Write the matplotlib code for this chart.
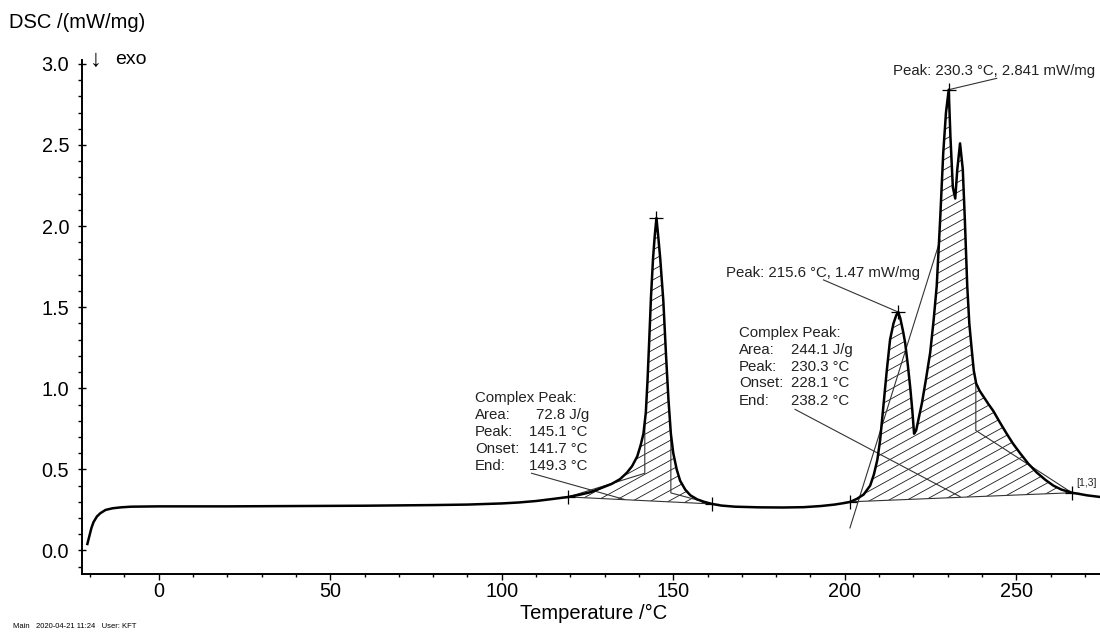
import numpy as np
import matplotlib
matplotlib.use("Agg")
import matplotlib.pyplot as plt
from matplotlib.collections import LineCollection

plt.rcParams['font.family'] = ['Liberation Sans', 'DejaVu Sans']

# DSC trace: temperature (°C) and heat flow (mW/mg)
temperature = [
    -20.8, -20.2, -19.6, -19.0, -18.0, -17.0, -15.5, -13.5, -11.0, -8.0,
    0.0, 20.0, 40.0, 60.0, 80.0, 90.0, 100.0, 105.0, 110.0, 115.0,
    119.4, 123.0, 126.0, 129.0, 132.0, 134.5, 136.5, 138.0, 139.5, 140.5,
    141.3, 142.0, 142.5, 143.0, 143.5, 144.1, 144.6, 145.1, 145.6, 146.2,
    147.1, 147.9, 148.6, 149.3, 150.0, 151.0, 152.0, 153.5, 155.0, 157.0,
    159.0, 161.3, 164.0, 168.0, 175.0, 182.0, 188.0, 193.0, 197.0, 200.0,
    201.6, 203.5, 205.5, 207.4, 208.5, 209.5, 210.3, 211.3, 212.2, 213.2,
    214.2, 215.0, 215.6, 216.2, 217.0, 217.6, 218.4, 219.1, 219.7, 220.2,
    220.8, 221.6, 222.5, 223.7, 224.9, 225.9, 226.8, 227.8, 228.7, 229.5,
    230.3, 230.8, 231.5, 232.2, 232.8, 233.6, 234.4, 235.0, 235.7, 236.3,
    237.0, 237.6, 238.3, 239.3, 240.4, 241.8, 243.3, 245.2, 247.2, 249.0,
    251.1, 253.5, 256.0, 258.5, 260.8, 263.2, 265.7, 266.2, 268.0, 270.6,
    272.5, 274.4,
]
dsc = [
    0.040, 0.090, 0.140, 0.175, 0.210, 0.230, 0.250, 0.260, 0.266, 0.270,
    0.272, 0.272, 0.274, 0.276, 0.280, 0.283, 0.290, 0.296, 0.305, 0.318,
    0.330, 0.345, 0.360, 0.385, 0.410, 0.440, 0.480, 0.520, 0.580, 0.650,
    0.720, 0.850, 1.050, 1.300, 1.560, 1.800, 1.940, 2.050, 1.940, 1.800,
    1.540, 1.200, 0.930, 0.720, 0.600, 0.500, 0.430, 0.375, 0.340, 0.315,
    0.300, 0.287, 0.277, 0.270, 0.266, 0.265, 0.267, 0.274, 0.283, 0.293,
    0.300, 0.318, 0.345, 0.400, 0.470, 0.560, 0.680, 0.900, 1.100, 1.300,
    1.400, 1.450, 1.470, 1.430, 1.350, 1.280, 1.140, 1.000, 0.860, 0.720,
    0.740, 0.820, 0.910, 1.060, 1.220, 1.420, 1.630, 2.040, 2.450, 2.700,
    2.841, 2.550, 2.240, 2.170, 2.350, 2.510, 2.350, 2.040, 1.630, 1.400,
    1.240, 1.110, 1.030, 0.985, 0.950, 0.905, 0.860, 0.790, 0.720, 0.660,
    0.600, 0.535, 0.480, 0.435, 0.400, 0.375, 0.360, 0.356, 0.350, 0.340,
    0.335, 0.330,
]

# Integration baselines of the two complex peaks
peak1_base_T = [119.4, 161.3]
peak1_base_dsc = [0.330, 0.287]
peak2_base_T = [201.6, 266.2]
peak2_base_dsc = [0.300, 0.356]

# Characteristic temperatures
peak1_onset, peak1_end = 141.7, 149.3
peak2_end = 238.2
peak_T = [145.1, 215.6, 230.3]
peak_dsc = [2.05, 1.47, 2.841]

x_ticks = [0, 50, 100, 150, 200, 250]
y_ticks = [0.0, 0.5, 1.0, 1.5, 2.0, 2.5, 3.0]
y_tick_labels = ['0.0', '0.5', '1.0', '1.5', '2.0', '2.5', '3.0']

W, H = 1100, 633
fig = plt.figure(figsize=(W / 100, H / 100), dpi=100)
ax = fig.add_axes([81.7 / W, (H - 574) / H, (W - 81.7) / W, (574 - 60) / H])
ax.set_xlim(-22.45, 274.4)
ax.set_ylim(-0.145, 3.024)

for side in ('top', 'right'):
    ax.spines[side].set_visible(False)
for side in ('left', 'bottom'):
    ax.spines[side].set_linewidth(1.4)

ax.set_xticks(x_ticks)
ax.set_xticks(np.arange(-20, 275, 10), minor=True)
ax.set_yticks(y_ticks)
ax.set_yticklabels(y_tick_labels)
ax.set_yticks(np.arange(-0.1, 3.01, 0.1), minor=True)
ax.tick_params(axis='x', which='major', direction='out', length=4, width=1.0,
               labelsize=14.3, pad=2)
ax.tick_params(axis='x', which='minor', direction='out', length=2.5, width=1.0)
ax.tick_params(axis='y', which='major', direction='inout', length=6, width=1.0,
               labelsize=14.3, pad=6)
ax.tick_params(axis='y', which='minor', direction='out', length=3, width=1.0)

T = np.asarray(temperature)
D = np.asarray(dsc)


def hatch_region(base_T, base_dsc, spacing_px=10.0, slope_px=0.55):
    """Fill the area between trace and baseline with slanted hatch lines."""
    sel = (T >= base_T[0]) & (T <= base_T[1])
    xs = T[sel]
    top = D[sel]
    bottom = np.interp(xs, base_T, base_dsc)
    poly = ax.fill_between(xs, bottom, top, facecolor='none', edgecolor='none')
    bb = ax.bbox
    rise = slope_px * bb.width
    lines = [[(bb.x0, c), (bb.x1, c + rise)]
             for c in np.arange(bb.y0 - rise, bb.y1, spacing_px)]
    inv = ax.transData.inverted()
    seg = [inv.transform(np.array(l)) for l in lines]
    lc = LineCollection(seg, colors='#1a1a1a', linewidths=0.6, zorder=2)
    ax.add_collection(lc, autolim=False)
    lc.set_clip_path(poly.get_paths()[0], poly.get_transform())
    ax.plot(base_T, base_dsc, color='#333333', lw=0.8, zorder=2)


hatch_region(peak1_base_T, peak1_base_dsc)
hatch_region(peak2_base_T, peak2_base_dsc)

thin = dict(color='#333333', lw=0.8, zorder=2)
# Onset / end constructions of the first peak
rising = T <= peak_T[0]
falling = T >= peak_T[0]
y_on = np.interp(peak1_onset, T[rising], D[rising])
y_end = np.interp(peak1_end, T[falling], D[falling])
ax.plot([peak1_onset, peak1_onset, peak1_base_T[0]], [y_on, 0.476, peak1_base_dsc[0]], **thin)
ax.plot([peak1_end, peak1_end, peak1_base_T[1]], [y_end, 0.355, peak1_base_dsc[1]], **thin)
# End construction and onset tangent of the second peak
y_end2 = np.interp(peak2_end, T[T >= 234.4], D[T >= 234.4])
ax.plot([peak2_end, peak2_end, peak2_base_T[1]], [y_end2, 0.74, peak2_base_dsc[1]], **thin)
ax.plot([201.5, 227.8], [0.139, 1.914], **thin)

# Leader lines from the labels
ax.plot([244.3, peak_T[2]], [2.911, peak_dsc[2]], **thin)
ax.plot([193.8, peak_T[1]], [1.668, peak_dsc[1]], **thin)
ax.plot([185.5, 233.6], [0.870, 0.332], **thin)
ax.plot([108.7, 135.7], [0.476, 0.315], **thin)

# Main curve
ax.plot(T, D, color='black', lw=1.8, zorder=4, solid_joinstyle='round')

# Markers
mk = dict(marker='+', color='black', ms=10, mew=0.9, ls='none', zorder=5)
ax.plot(peak_T, peak_dsc, **mk)
ax.plot(peak1_base_T + peak2_base_T, peak1_base_dsc + peak2_base_dsc, **mk)

# Text annotations
tkw = dict(fontsize=10.8, color='#222222', va='center', ha='left', zorder=6)
ax.text(214.2, 2.958, 'Peak: 230.3 °C, 2.841 mW/mg', **tkw)
ax.text(165.5, 1.713, 'Peak: 215.6 °C, 1.47 mW/mg', **tkw)

block1_y = [0.938, 0.835, 0.732, 0.626, 0.523]
ax.text(92.2, block1_y[0], 'Complex Peak:', **tkw)
for lab, val, xv, yy in zip(['Area:', 'Peak:', 'Onset:', 'End:'],
                            ['72.8 J/g', '145.1 °C', '141.7 °C', '149.3 °C'],
                            [109.9, 107.8, 107.8, 107.8], block1_y[1:]):
    ax.text(92.2, yy, lab, **tkw)
    ax.text(xv, yy, val, **tkw)

block2_y = [1.339, 1.237, 1.133, 1.031, 0.924]
ax.text(169.2, block2_y[0], 'Complex Peak:', **tkw)
for lab, val, yy in zip(['Area:', 'Peak:', 'Onset:', 'End:'],
                        ['244.1 J/g', '230.3 °C', '228.1 °C', '238.2 °C'], block2_y[1:]):
    ax.text(169.2, yy, lab, **tkw)
    ax.text(184.3, yy, val, **tkw)

ax.text(267.4, 0.418, '[1,3]', fontsize=7.5, color='#222222', va='center', ha='left')

fig.text(9 / W, 1 - 23 / H, 'DSC /(mW/mg)', fontsize=14.5, va='center', ha='left')
fig.text(90 / W, 1 - 60 / H, '↓', fontsize=17, va='center', ha='left')
fig.text(115 / W, 1 - 60 / H, 'exo', fontsize=14, va='center', ha='left')
fig.text(594 / W, 1 - 613 / H, 'Temperature /°C', fontsize=14.5, va='center', ha='center')
fig.text(13 / W, 1 - 627 / H, 'Main   2020-04-21 11:24   User: KFT', fontsize=5.5,
         va='center', ha='left')

fig.savefig('out.png', dpi=100)
